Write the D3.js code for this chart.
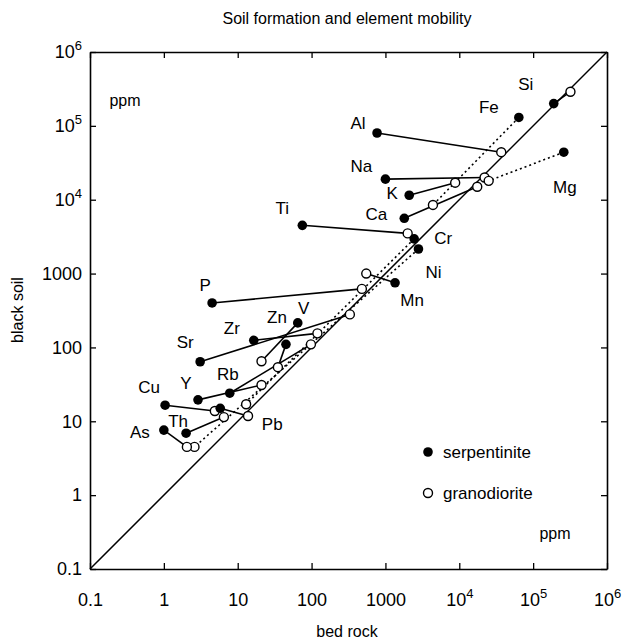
<!DOCTYPE html>
<html>
<head>
<meta charset="utf-8">
<script src="https://cdn.jsdelivr.net/npm/d3@7"></script>
<style>
  body { margin: 0; background: #fff; }
  text { font-family: "Liberation Sans", Arial, sans-serif; fill: #000; }
</style>
</head>
<body>
<div id="chart"></div>
<script>
// element list, serpentinite (filled) and granodiorite (open) values in ppm
var elements = ["Si", "Fe", "Al", "Na", "K", "Mg", "Ca", "Ti", "Cr", "Ni", "Mn", "P",
                "Sr", "Zr", "V", "Zn", "Rb", "Y", "Cu", "Pb", "Th", "As"];
var serpBed  = [1.9e5, 6.4e4, 770, 1000, 2100, 2.6e5, 1800, 75, 2450, 2800, 1350, 4.5,
                3.1, 16.5, 65, 45, 7.8, 2.9, 1.04, 5.8, 2.0, 1.0];
var serpSoil = [2.0e5, 1.3e5, 8.0e4, 1.9e4, 1.15e4, 4.4e4, 5600, 4500, 2950, 2150, 750, 400,
                64, 125, 215, 110, 24, 19.5, 16.5, 15, 6.9, 7.6];
var granBed  = [3.2e5, 4400, 3.7e4, 2.2e4, 8800, 2.5e4, 1.75e4, 2000, 13, 2.6, 550, 480,
                330, 120, 21, 35, 98, 21, 4.9, 13.8, 6.5, 2.05];
var granSoil = [2.9e5, 8500, 4.4e4, 2.0e4, 1.7e4, 1.8e4, 1.5e4, 3500, 17, 4.5, 1000, 620,
                280, 155, 65, 54, 110, 31, 13.8, 11.8, 11.4, 4.5];
var dottedElements = ["Fe", "Mg", "Cr", "Ni"];
var decades = [0.1, 1, 10, 100, 1000, 1e4, 1e5, 1e6];

// label placement relative to the filled point (pixels)
var labelOffset = {
  Si: [-28, -20], Fe: [-30, -10], Al: [-19, -10], Na: [-24, -13], K: [-17, -2],
  Mg: [1, 35], Ca: [-28, -4], Ti: [-20, -17], Cr: [29, -1], Ni: [15, 23],
  Mn: [17, 17], P: [-7, -18], Sr: [-15, -20], Zr: [-22, -12], V: [6, -15],
  Zn: [-9, -27], Rb: [-2, -19], Y: [-12, -17], Cu: [-16, -18], Pb: [52, 16],
  Th: [-8, -12], As: [-24, 2]
};

var width = 625, height = 640;
var plot = {left: 90, right: 607, top: 52, bottom: 569};

var svg = d3.select("#chart").append("svg")
  .attr("width", width).attr("height", height);

var x = d3.scaleLog().domain([0.1, 1e6]).range([plot.left, plot.right]);
var y = d3.scaleLog().domain([0.1, 1e6]).range([plot.bottom, plot.top]);

function label_html(d)
{
  if (d >= 1e4) return "10<tspan dy='-8' font-size='13'>" + Math.round(Math.log10(d)) + "</tspan>";
  if (d < 1) return "0.1";
  return String(d);
}

function style_axis(g)
{
  g.select(".domain").attr("stroke-width", 1.6);
  g.selectAll(".tick line").attr("stroke-width", 1.3);
}

// bottom axis with labels
svg.append("g")
  .attr("transform", "translate(0," + plot.bottom + ")")
  .call(d3.axisBottom(x).tickValues(decades).tickSize(-6).tickSizeOuter(0).tickPadding(24).tickFormat(""))
  .call(style_axis)
  .call(function (g) {
    g.selectAll(".tick text")
      .attr("font-size", 18)
      .attr("font-family", "Liberation Sans, Arial, sans-serif")
      .html(function (d) { return label_html(d); });
  });

// left axis with labels
svg.append("g")
  .attr("transform", "translate(" + plot.left + ",0)")
  .call(d3.axisLeft(y).tickValues(decades).tickSize(-6).tickSizeOuter(0).tickPadding(8).tickFormat(""))
  .call(style_axis)
  .call(function (g) {
    g.selectAll(".tick text")
      .attr("font-size", 18)
      .attr("font-family", "Liberation Sans, Arial, sans-serif")
      .html(function (d) { return label_html(d); });
  });

// top and right: ticks only
svg.append("g")
  .attr("transform", "translate(0," + plot.top + ")")
  .call(d3.axisTop(x).tickValues(decades).tickSize(-6).tickSizeOuter(0).tickFormat(""))
  .call(style_axis);
svg.append("g")
  .attr("transform", "translate(" + plot.right + ",0)")
  .call(d3.axisRight(y).tickValues(decades).tickSize(-6).tickSizeOuter(0).tickFormat(""))
  .call(style_axis);

// 1:1 line
svg.append("line")
  .attr("x1", x(0.1)).attr("y1", y(0.1))
  .attr("x2", x(1e6)).attr("y2", y(1e6))
  .attr("stroke", "black").attr("stroke-width", 1.5);

var data = elements.map(function (e, i) {
  return { name: e, sb: serpBed[i], ss: serpSoil[i], gb: granBed[i], gs: granSoil[i],
           dotted: dottedElements.indexOf(e) >= 0 };
});

// connecting lines
svg.append("g").selectAll("line")
  .data(data)
  .join("line")
    .attr("x1", d => x(d.sb)).attr("y1", d => y(d.ss))
    .attr("x2", d => x(d.gb)).attr("y2", d => y(d.gs))
    .attr("stroke", "black")
    .attr("stroke-width", 1.6)
    .attr("stroke-dasharray", d => d.dotted ? "2,3" : null);

// granodiorite (open)
svg.append("g").selectAll("circle")
  .data(data)
  .join("circle")
    .attr("cx", d => x(d.gb)).attr("cy", d => y(d.gs))
    .attr("r", 4.5)
    .attr("fill", "white").attr("stroke", "black").attr("stroke-width", 1.4);

// serpentinite (filled)
svg.append("g").selectAll("circle")
  .data(data)
  .join("circle")
    .attr("cx", d => x(d.sb)).attr("cy", d => y(d.ss))
    .attr("r", 4.8)
    .attr("fill", "black");

// element labels
svg.append("g").selectAll("text")
  .data(data)
  .join("text")
    .attr("x", d => x(d.sb) + labelOffset[d.name][0])
    .attr("y", d => y(d.ss) + labelOffset[d.name][1])
    .attr("dy", "0.35em")
    .attr("text-anchor", "middle")
    .attr("font-size", 17)
    .text(d => d.name);

// legend
var legend = svg.append("g");
legend.append("circle").attr("cx", 428).attr("cy", 452).attr("r", 4.8).attr("fill", "black");
legend.append("text").attr("x", 443).attr("y", 452).attr("dy", "0.35em")
  .attr("font-size", 17).text("serpentinite");
legend.append("circle").attr("cx", 428).attr("cy", 493).attr("r", 4.5)
  .attr("fill", "white").attr("stroke", "black").attr("stroke-width", 1.4);
legend.append("text").attr("x", 443).attr("y", 493).attr("dy", "0.35em")
  .attr("font-size", 17).text("granodiorite");

// ppm notes
svg.append("text").attr("x", 125).attr("y", 100).attr("dy", "0.35em")
  .attr("text-anchor", "middle").attr("font-size", 16).text("ppm");
svg.append("text").attr("x", 555).attr("y", 533).attr("dy", "0.35em")
  .attr("text-anchor", "middle").attr("font-size", 16).text("ppm");

// titles
svg.append("text").attr("x", 347).attr("y", 18).attr("dy", "0.35em")
  .attr("text-anchor", "middle").attr("font-size", 16)
  .text("Soil formation and element mobility");
svg.append("text").attr("x", 347).attr("y", 631).attr("dy", "0.35em")
  .attr("text-anchor", "middle").attr("font-size", 16).text("bed rock");
svg.append("text")
  .attr("transform", "translate(17,310) rotate(-90)")
  .attr("dy", "0.35em")
  .attr("text-anchor", "middle").attr("font-size", 16).text("black soil");
</script>
</body>
</html>
